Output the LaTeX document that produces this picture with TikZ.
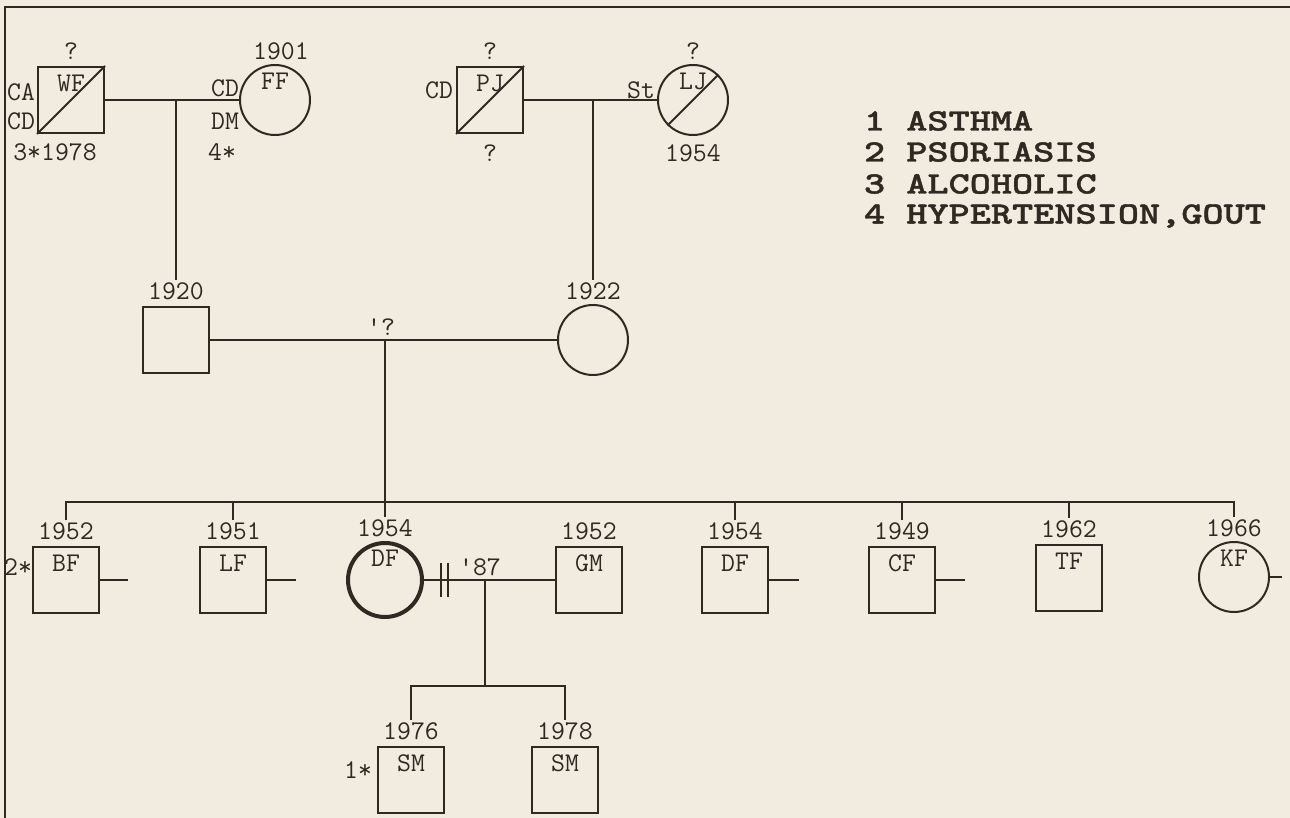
\documentclass[tikz,border=0pt]{standalone}
\usepackage{fontspec}
\usetikzlibrary{positioning}
\newfontfamily\legendfont{lmmonolt10-bold.otf}[FakeStretch=1.3, FakeBold=1.2]
\definecolor{paper}{RGB}{241,235,224}
\definecolor{ink}{RGB}{50,40,34}

\begin{document}
\begin{tikzpicture}[
        x=1pt, y=-1pt, color=ink, line width=2pt,
        male/.style={rectangle, draw=ink, line width=2pt, minimum size=66pt, inner sep=0pt},
        female/.style={circle, draw=ink, line width=2pt, minimum size=70pt, inner sep=0pt},
        txt/.style={font=\fontsize{27}{27}\selectfont\ttfamily, inner sep=2pt, text=ink},
        legend/.style={font=\fontsize{31}{31}\selectfont\legendfont, anchor=west, inner sep=0pt, text=ink}
    ]
        \fill[paper] (0,0) rectangle (1290,818);
        \useasboundingbox (0,0) rectangle (1290,818);
        \draw (1290,7) -- (5,7) -- (5,818);

        % grandparents
        \node (wf) [male] at (71,100) {};
        \node (ff) [female] at (275,100) {};
        \node (pj) [male] at (490,100) {};
        \node (lj) [female] at (693,100) {};
        \draw (wf.south west) -- (wf.north east);
        \draw (pj.south west) -- (pj.north east);
        \draw (lj.225) -- (lj.45);
        \node (wf-n) [txt, below=6pt of wf.north] {WF};
        \node (ff-n) [txt, below=6pt of ff.north] {FF};
        \node (pj-n) [txt, below=6pt of pj.north] {PJ};
        \node (lj-n) [txt, below=6pt of lj.north] {LJ};

        \node (wf-q) [txt, above=3pt of wf] {?};
        \node (wf-ca) [txt, anchor=east] at (38,92) {CA};
        \node (wf-cd) [txt, anchor=east] at (38,121) {CD};
        \node (wf-d) [txt] at (55,152) {3*1978};
        \node (ff-y) [txt, above=1pt of ff, xshift=6pt] {1901};
        \node (ff-cd) [txt, anchor=east] at (242,88) {CD};
        \node (ff-dm) [txt, anchor=east] at (242,121) {DM};
        \node (ff-4) [txt] at (222,152) {4*};
        \node (pj-q1) [txt, above=3pt of pj] {?};
        \node (pj-q2) [txt, below=8pt of pj] {?};
        \node (pj-cd) [txt, anchor=east] at (456,90) {CD};
        \node (lj-st) [txt, anchor=east] at (658,90) {St};
        \node (lj-q) [txt, above=1pt of lj] {?};
        \node (lj-y) [txt, below=6pt of lj] {1954};

        \draw (wf) -- (ff);
        \draw (pj) -- (lj);
        \coordinate (m-wf) at (176,100);
        \coordinate (m-pj) at (593,100);

        % legend
        \node (leg1) [legend] at (863,121) {1 ASTHMA};
        \node (leg2) [legend] at (863,152) {2 PSORIASIS};
        \node (leg3) [legend] at (863,184) {3 ALCOHOLIC};
        \node (leg4) [legend] at (863,216) {4 HYPERTENSION,GOUT};

        % parents
        \node (p20) [male] at (176,340) {};
        \node (p22) [female] at (593,340) {};
        \node (y-p20) [txt, above=3pt of p20] {1920};
        \node (y-p22) [txt, above=1pt of p22] {1922};
        \draw (m-wf) -- (y-p20);
        \draw (m-pj) -- (y-p22);
        \draw (p20) -- (p22);
        \coordinate (m-p) at (385,340);
        \node (m-p-q) [txt] at (381,327) {'?};

        % children
        \coordinate (sib) at (385,502);
        \node (bf) [male] at (66,580) {};
        \node (lf) [male] at (233,580) {};
        \node (df) [female, line width=4pt, minimum size=74pt] at (385,580) {};
        \node (gm) [male] at (589,580) {};
        \node (df2) [male] at (735,580) {};
        \node (cf) [male] at (902,580) {};
        \node (tf) [male] at (1069,578) {};
        \node (kf) [female] at (1234,577) {};

        \node (bf-n) [txt, below=6pt of bf.north] {BF};
        \node (lf-n) [txt, below=6pt of lf.north] {LF};
        \node (df-n) [txt, below=6pt of df.north] {DF};
        \node (gm-n) [txt, below=6pt of gm.north] {GM};
        \node (df2-n) [txt, below=6pt of df2.north] {DF};
        \node (cf-n) [txt, below=6pt of cf.north] {CF};
        \node (tf-n) [txt, below=6pt of tf.north] {TF};
        \node (kf-n) [txt, below=6pt of kf.north] {KF};

        \node (y-bf) [txt, above=3pt of bf] {1952};
        \node (y-lf) [txt, above=3pt of lf] {1951};
        \node (y-df) [txt, above=1pt of df] {1954};
        \node (y-gm) [txt, above=3pt of gm] {1952};
        \node (y-df2) [txt, above=3pt of df2] {1954};
        \node (y-cf) [txt, above=3pt of cf] {1949};
        \node (y-tf) [txt, above=3pt of tf] {1962};
        \node (y-kf) [txt, above=1pt of kf] {1966};
        \node (bf-2) [txt] at (18,567) {2*};

        \draw (m-p) -- (sib);
        \draw (y-bf) |- (sib) -| (y-kf);
        \foreach \k in {lf,df,df2,cf,tf}
            \draw (y-\k) -- (y-\k |- sib);
        \coordinate (bf-t) at (128,580);
        \coordinate (lf-t) at (296,580);
        \coordinate (df2-t) at (799,580);
        \coordinate (cf-t) at (965,580);
        \coordinate (kf-t) at (1282,577);
        \draw (bf) -- (bf-t);
        \draw (lf) -- (lf-t);
        \draw (df2) -- (df2-t);
        \draw (cf) -- (cf-t);
        \draw (kf) -- (kf-t);

        % divorce of DF and GM
        \draw (df) -- (gm);
        \coordinate (div) at (444.5,580);
        \draw ([xshift=-3.5pt, yshift=17pt]div) -- ([xshift=-3.5pt, yshift=-17pt]div);
        \draw ([xshift=3.5pt, yshift=17pt]div) -- ([xshift=3.5pt, yshift=-17pt]div);
        \node (div-y) [txt] at (480,567) {'87};

        % grandchildren
        \coordinate (m-dg) at (485,580);
        \coordinate (sib2) at (485,686);
        \node (sm1) [male] at (411,780) {};
        \node (sm2) [male] at (565,780) {};
        \node (sm1-n) [txt, below=6pt of sm1.north] {SM};
        \node (sm2-n) [txt, below=6pt of sm2.north] {SM};
        \node (y-sm1) [txt, above=3pt of sm1] {1976};
        \node (y-sm2) [txt, above=3pt of sm2] {1978};
        \node (sm1-1) [txt] at (358,770) {1*};
        \draw (m-dg) -- (sib2);
        \draw (y-sm1) |- (sib2) -| (y-sm2);
    \end{tikzpicture}
\end{document}
